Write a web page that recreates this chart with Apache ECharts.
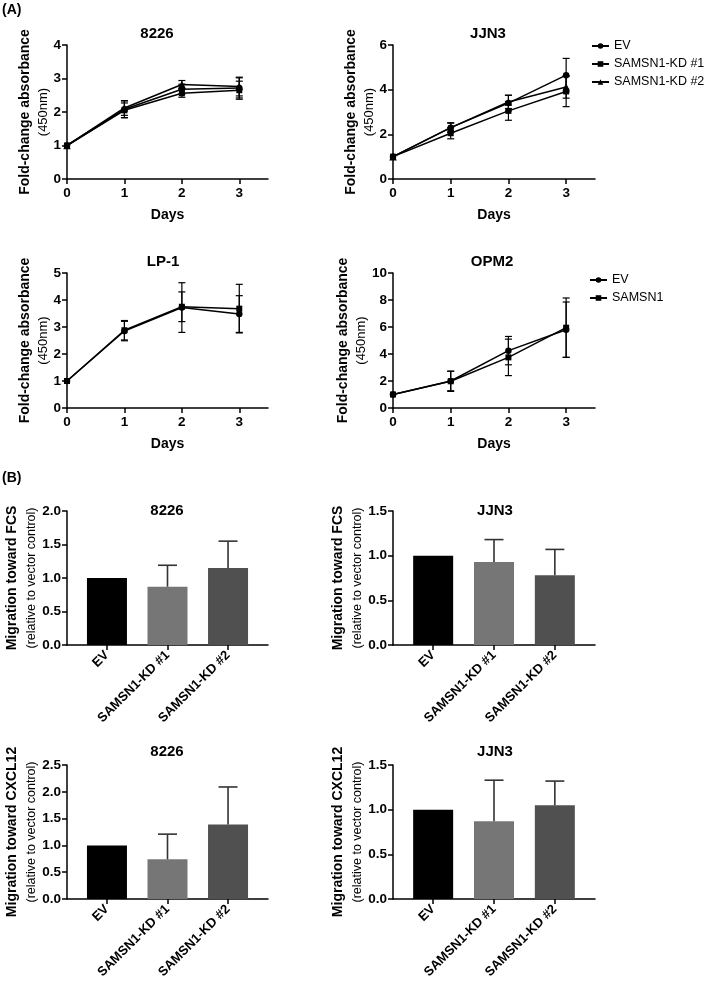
<!DOCTYPE html>
<html><head><meta charset="utf-8">
<script src="https://cdn.jsdelivr.net/npm/echarts@6/dist/echarts.min.js"></script>
<style>html,body{margin:0;padding:0;background:#fff}#c{width:709px;height:984px}</style>
</head><body><div id="c"></div>
<script>
// ---------- DATA ----------
const days = [0, 1, 2, 3];
const dayTicks = [0, 1, 2, 3];

// (A) 8226
const a8226_EV = [1.0, 2.08, 2.68, 2.72];
const a8226_EV_sd = [0, 0.25, 0.15, 0.30];
const a8226_KD1 = [1.0, 2.05, 2.56, 2.65];
const a8226_KD1_sd = [0, 0.22, 0.12, 0.27];
const a8226_KD2 = [1.0, 2.12, 2.82, 2.76];
const a8226_KD2_sd = [0, 0.22, 0.12, 0.28];
// (A) JJN3
const aJJN3_EV = [1.0, 2.30, 3.40, 4.65];
const aJJN3_EV_sd = [0, 0.22, 0.35, 0.75];
const aJJN3_KD1 = [1.0, 2.05, 3.05, 3.92];
const aJJN3_KD1_sd = [0, 0.25, 0.42, 0.68];
const aJJN3_KD2 = [1.0, 2.30, 3.45, 4.12];
const aJJN3_KD2_sd = [0, 0.20, 0.30, 0.50];
// (A) LP-1
const aLP1_EV = [1.0, 2.85, 3.72, 3.48];
const aLP1_EV_sd = [0, 0.36, 0.92, 0.68];
const aLP1_S = [1.0, 2.88, 3.75, 3.68];
const aLP1_S_sd = [0, 0.36, 0.55, 0.90];
// (A) OPM2
const aOPM2_EV = [1.0, 2.00, 4.25, 5.80];
const aOPM2_EV_sd = [0, 0.72, 1.05, 2.05];
const aOPM2_S = [1.0, 1.98, 3.75, 5.95];
const aOPM2_S_sd = [0, 0.75, 1.35, 2.20];

// (B) bars
const barCats = ['EV', 'SAMSN1-KD #1', 'SAMSN1-KD #2'];
const barPos = [0, 1, 2];
const fcs8226 = [1.0, 0.87, 1.15];
const fcs8226_err = [0, 0.32, 0.40];
const fcsJJN3 = [1.0, 0.93, 0.78];
const fcsJJN3_err = [0, 0.25, 0.29];
const cx8226 = [1.0, 0.74, 1.39];
const cx8226_err = [0, 0.47, 0.70];
const cxJJN3 = [1.0, 0.87, 1.05];
const cxJJN3_err = [0, 0.46, 0.27];

// ---------- STYLE ----------
const FONT = '"Liberation Sans", Arial, Helvetica, sans-serif';
const barColors = ['#000000', '#767676', '#505050'];
const AX = {color: '#000', width: 1.5};

const grids = [
  {left: 67, top: 45, width: 201, height: 134},
  {left: 393, top: 45, width: 202, height: 134},
  {left: 67, top: 273, width: 201, height: 135},
  {left: 393, top: 273, width: 202, height: 135},
  {left: 67, top: 511, width: 201, height: 134},
  {left: 393, top: 511, width: 202, height: 134},
  {left: 67, top: 765, width: 201, height: 134},
  {left: 393, top: 765, width: 202, height: 134}
].map(g => Object.assign({containLabel: false, outerBoundsMode: 'none'}, g));

const tickLabel = {fontFamily: FONT, fontWeight: 'bold', fontSize: 13.5, color: '#000'};

function lineX(i) {
  return {
    gridIndex: i, type: 'value', min: 0, max: 3.5,
    name: 'Days', nameLocation: 'middle', nameGap: 29,
    nameTextStyle: {fontFamily: FONT, fontWeight: 'bold', fontSize: 14, color: '#000'},
    axisLine: {show: true, onZero: false, lineStyle: AX},
    axisTick: {show: true, length: 5, customValues: dayTicks, lineStyle: AX},
    axisLabel: Object.assign({customValues: dayTicks, margin: 7.5}, tickLabel),
    splitLine: {show: false}
  };
}
function lineY(i, max, interval) {
  return {
    gridIndex: i, type: 'value', min: 0, max: max, interval: interval,
    name: '{a|Fold-change absorbance}\n{b|(450nm)}',
    nameLocation: 'middle', nameRotate: 90, nameGap: 12,
    nameTextStyle: {
      rich: {
        a: {fontFamily: FONT, fontWeight: 'bold', fontSize: 14, color: '#000', lineHeight: 18},
        b: {fontFamily: FONT, fontWeight: 'normal', fontSize: 13, color: '#000', lineHeight: 18}
      }
    },
    axisLine: {show: true, onZero: false, lineStyle: AX},
    axisTick: {show: true, length: 5, lineStyle: AX},
    axisLabel: Object.assign({margin: 6}, tickLabel),
    splitLine: {show: false}
  };
}
function barX(i) {
  return {
    gridIndex: i, type: 'value', min: -0.66, max: 2.66,
    axisLine: {show: true, onZero: false, lineStyle: AX},
    axisTick: {show: true, length: 5, customValues: barPos, lineStyle: AX},
    axisLabel: Object.assign({customValues: barPos, rotate: 45, margin: 8,
      formatter: v => barCats[Math.round(v)]}, tickLabel, {fontSize: 13}),
    splitLine: {show: false}
  };
}
function barY(i, max, target) {
  return {
    gridIndex: i, type: 'value', min: 0, max: max, interval: 0.5,
    name: '{a|Migration toward ' + target + '}\n{b|(relative to vector control)}',
    nameLocation: 'middle', nameRotate: 90, nameGap: 22,
    nameTextStyle: {
      rich: {
        a: {fontFamily: FONT, fontWeight: 'bold', fontSize: 14, color: '#000', lineHeight: 20},
        b: {fontFamily: FONT, fontWeight: 'normal', fontSize: 12.5, color: '#000', lineHeight: 19}
      }
    },
    axisLine: {show: true, onZero: false, lineStyle: AX},
    axisTick: {show: true, length: 5, lineStyle: AX},
    axisLabel: Object.assign({margin: 6, formatter: v => v.toFixed(1)}, tickLabel),
    splitLine: {show: false}
  };
}

const SYM = {EV: ['circle', 6.5], KD1: ['rect', 6], KD2: ['triangle', 7.5]};
function lineS(ax, name, ys, sym) {
  return {
    type: 'line', name: name, xAxisIndex: ax, yAxisIndex: ax,
    data: days.map((d, k) => [d, ys[k]]),
    symbol: sym[0], symbolSize: sym[1], showSymbol: true,
    lineStyle: {color: '#000', width: 1.5}, itemStyle: {color: '#000'},
    z: 3, silent: true, animation: false
  };
}
function errS(ax, xs, ys, sd, cap, color, lw, twoSided) {
  const data = [];
  xs.forEach((x, k) => { if (sd[k] > 0) data.push([x, twoSided ? ys[k] - sd[k] : ys[k], ys[k] + sd[k]]); });
  return {
    type: 'custom', xAxisIndex: ax, yAxisIndex: ax, data: data,
    encode: {x: 0, y: [1, 2]}, z: 4, silent: true, animation: false,
    renderItem: function (params, api) {
      const lo = api.coord([api.value(0), api.value(1)]);
      const hi = api.coord([api.value(0), api.value(2)]);
      const st = {stroke: color, lineWidth: lw};
      const ch = [
        {type: 'line', shape: {x1: lo[0], y1: lo[1], x2: hi[0], y2: hi[1]}, style: st},
        {type: 'line', shape: {x1: hi[0] - cap, y1: hi[1], x2: hi[0] + cap, y2: hi[1]}, style: st}
      ];
      if (twoSided) ch.push({type: 'line', shape: {x1: lo[0] - cap, y1: lo[1], x2: lo[0] + cap, y2: lo[1]}, style: st});
      return {type: 'group', children: ch};
    }
  };
}
function barS(ax, vals) {
  return {
    type: 'bar', xAxisIndex: ax, yAxisIndex: ax, barWidth: 40,
    data: barPos.map((p, k) => ({value: [p, vals[k]], itemStyle: {color: barColors[k]}})),
    z: 2, silent: true, animation: false
  };
}

const titleStyle = {fontFamily: FONT, fontWeight: 'bold', fontSize: 15, color: '#000'};
function T(text, x, y) { return {text: text, left: x, top: y, textAlign: 'center', padding: 0, textStyle: titleStyle}; }

const legendText = {fontFamily: FONT, fontSize: 12.5, color: '#000', lineHeight: 14};

const option = {
  backgroundColor: '#fff',
  animation: false,
  title: [
    {text: '(A)', left: 2, top: 3, padding: 0, textStyle: Object.assign({}, titleStyle, {fontSize: 14})},
    {text: '(B)', left: 2, top: 471, padding: 0, textStyle: Object.assign({}, titleStyle, {fontSize: 14})},
    T('8226', 157, 26), T('JJN3', 488, 26),
    T('LP-1', 163, 254), T('OPM2', 492, 254),
    T('8226', 167, 503), T('JJN3', 495, 503),
    T('8226', 167, 744), T('JJN3', 495, 744)
  ],
  legend: [
    {data: ['EV', 'SAMSN1-KD #1', 'SAMSN1-KD #2'], orient: 'vertical', left: 591, top: 39,
     itemWidth: 17, itemHeight: 7, itemGap: 4, selectedMode: false, padding: 0, textStyle: legendText},
    {data: ['EV', 'SAMSN1'], orient: 'vertical', left: 589, top: 273,
     itemWidth: 17, itemHeight: 7, itemGap: 4, selectedMode: false, padding: 0, textStyle: legendText}
  ],
  grid: grids,
  xAxis: [lineX(0), lineX(1), lineX(2), lineX(3), barX(4), barX(5), barX(6), barX(7)],
  yAxis: [lineY(0, 4, 1), lineY(1, 6, 2), lineY(2, 5, 1), lineY(3, 10, 2),
          barY(4, 2.0, 'FCS'), barY(5, 1.5, 'FCS'), barY(6, 2.5, 'CXCL12'), barY(7, 1.5, 'CXCL12')],
  series: [
    // 8226
    errS(0, days, a8226_EV, a8226_EV_sd, 3.5, '#000', 1.2, true),
    errS(0, days, a8226_KD1, a8226_KD1_sd, 3.5, '#000', 1.2, true),
    errS(0, days, a8226_KD2, a8226_KD2_sd, 3.5, '#000', 1.2, true),
    lineS(0, 'EV', a8226_EV, SYM.EV), lineS(0, 'SAMSN1-KD #1', a8226_KD1, SYM.KD1), lineS(0, 'SAMSN1-KD #2', a8226_KD2, SYM.KD2),
    // JJN3
    errS(1, days, aJJN3_EV, aJJN3_EV_sd, 3.5, '#000', 1.2, true),
    errS(1, days, aJJN3_KD1, aJJN3_KD1_sd, 3.5, '#000', 1.2, true),
    errS(1, days, aJJN3_KD2, aJJN3_KD2_sd, 3.5, '#000', 1.2, true),
    lineS(1, 'EV', aJJN3_EV, SYM.EV), lineS(1, 'SAMSN1-KD #1', aJJN3_KD1, SYM.KD1), lineS(1, 'SAMSN1-KD #2', aJJN3_KD2, SYM.KD2),
    // LP-1
    errS(2, days, aLP1_EV, aLP1_EV_sd, 3.5, '#000', 1.2, true),
    errS(2, days, aLP1_S, aLP1_S_sd, 3.5, '#000', 1.2, true),
    lineS(2, 'EV', aLP1_EV, SYM.EV), lineS(2, 'SAMSN1', aLP1_S, SYM.KD1),
    // OPM2
    errS(3, days, aOPM2_EV, aOPM2_EV_sd, 3.5, '#000', 1.2, true),
    errS(3, days, aOPM2_S, aOPM2_S_sd, 3.5, '#000', 1.2, true),
    lineS(3, 'EV', aOPM2_EV, SYM.EV), lineS(3, 'SAMSN1', aOPM2_S, SYM.KD1),
    // bars
    barS(4, fcs8226), errS(4, barPos, fcs8226, fcs8226_err, 9.5, '#333', 1.6, false),
    barS(5, fcsJJN3), errS(5, barPos, fcsJJN3, fcsJJN3_err, 9.5, '#333', 1.6, false),
    barS(6, cx8226), errS(6, barPos, cx8226, cx8226_err, 9.5, '#333', 1.6, false),
    barS(7, cxJJN3), errS(7, barPos, cxJJN3, cxJJN3_err, 9.5, '#333', 1.6, false)
  ]
};

const chart = echarts.init(document.getElementById('c'), null, {renderer: 'canvas'});
chart.setOption(option);
</script>
</body></html>
